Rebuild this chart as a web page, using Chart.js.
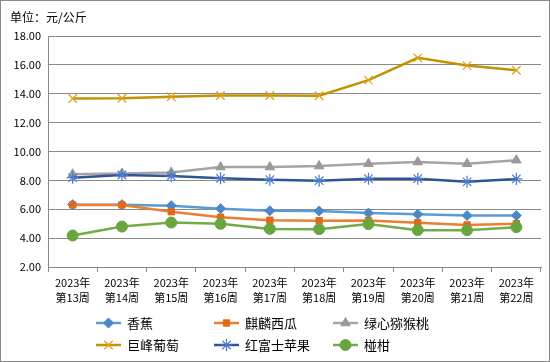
<!DOCTYPE html>
<html>
<head>
<meta charset="utf-8">
<script src="https://cdn.jsdelivr.net/npm/chart.js@4/dist/chart.umd.min.js"></script>
<style>
  html, body { margin: 0; padding: 0; background: #fff; }
  #wrap { width: 550px; height: 362px; position: relative; }
</style>
</head>
<body>
<div id="wrap"><canvas id="priceChart"></canvas></div>
<script>
const weeks = ['第13周', '第14周', '第15周', '第16周', '第17周', '第18周', '第19周', '第20周', '第21周', '第22周'];
const yearLabel = '2023年';

const banana     = [6.32, 6.32, 6.25, 6.04, 5.90, 5.88, 5.74, 5.65, 5.56, 5.56];
const watermelon = [6.30, 6.30, 5.83, 5.45, 5.24, 5.21, 5.22, 5.07, 4.91, 5.00];
const kiwi       = [8.42, 8.48, 8.55, 8.92, 8.92, 8.99, 9.15, 9.27, 9.15, 9.40];
const grape      = [13.67, 13.69, 13.79, 13.88, 13.88, 13.86, 14.94, 16.49, 15.95, 15.63];
const fuji       = [8.19, 8.37, 8.30, 8.14, 8.05, 7.98, 8.12, 8.12, 7.90, 8.10];
const ponkan     = [4.18, 4.80, 5.08, 4.99, 4.64, 4.62, 4.97, 4.55, 4.55, 4.76];

const cjk = "'Noto Sans CJK SC', 'DejaVu Sans', sans-serif";

function series(label, data, line, marker, style, radius) {
    return {
        label: label,
        data: data,
        borderColor: line,
        backgroundColor: line,
        borderWidth: 2.5,
        pointStyle: style,
        pointRadius: radius,
        pointBackgroundColor: marker,
        pointBorderColor: marker,
        pointBorderWidth: (style === 'crossRot' || style === 'star') ? 1.2 : 1,
        tension: 0
    };
}

const sets = [
    series('香蕉', banana, '#5B9BD5', '#4A88C8', 'rectRot', 5),
    series('麒麟西瓜', watermelon, '#ED7D31', '#E06A1C', 'rect', 4.5),
    series('绿心猕猴桃', kiwi, '#A5A5A5', '#999999', 'triangle', 5.5),
    series('巨峰葡萄', grape, '#C29200', '#E0A21C', 'crossRot', 6),
    series('红富士苹果', fuji, '#2F5597', '#4A7BD0', 'star', 6),
    series('椪柑', ponkan, '#70AD47', '#6AA63F', 'circle', 5.5)
];
// later series drawn on top
sets.forEach((s, i) => { s.order = sets.length - i; });

const frameAndLegend = {
    id: 'frameAndLegend',
    afterDraw(chart) {
        const ctx = chart.ctx;
        ctx.save();
        // outer frame
        ctx.strokeStyle = '#898989';
        ctx.lineWidth = 1;
        ctx.strokeRect(0.5, 0.5, chart.width - 1, chart.height - 1);
        // unit title
        ctx.fillStyle = '#000';
        ctx.font = '12px ' + cjk;
        ctx.textBaseline = 'middle';
        ctx.textAlign = 'left';
        ctx.fillText('单位：元/公斤', 10, 17);
        // legend, 3 columns x 2 rows
        const colX = [96, 214, 333];
        const rowY = [323, 345];
        ctx.font = '13px ' + cjk;
        chart.data.datasets.forEach((ds, i) => {
            const x0 = colX[i % 3];
            const y = rowY[Math.floor(i / 3)];
            ctx.strokeStyle = ds.borderColor;
            ctx.lineWidth = 2.5;
            ctx.beginPath();
            ctx.moveTo(x0, y);
            ctx.lineTo(x0 + 25, y);
            ctx.stroke();
            ctx.fillStyle = ds.pointBackgroundColor;
            ctx.strokeStyle = ds.pointBorderColor;
            ctx.lineWidth = ds.pointBorderWidth;
            Chart.helpers.drawPoint(ctx, {
                pointStyle: ds.pointStyle,
                radius: ds.pointRadius,
                borderWidth: ds.pointBorderWidth,
                rotation: 0
            }, x0 + 12.5, y);
            ctx.fillStyle = '#000';
            ctx.textAlign = 'left';
            ctx.fillText(ds.label, x0 + 31, y);
        });
        ctx.restore();
    }
};

const chartCtx = document.getElementById('priceChart').getContext('2d');

const priceChart = new Chart(chartCtx, {
    type: 'line',
    data: {
        labels: weeks.map(w => [yearLabel, w]),
        datasets: sets
    },
    options: {
        responsive: true,
        maintainAspectRatio: false,
        animation: false,
        layout: {
            padding: { top: 36, right: 9, bottom: 50, left: 0 }
        },
        plugins: {
            legend: { display: false },
            title: { display: false },
            tooltip: { enabled: false }
        },
        scales: {
            x: {
                offset: true,
                grid: {
                    offset: true,
                    drawOnChartArea: false,
                    drawTicks: true,
                    tickLength: 5,
                    color: '#898989'
                },
                border: { color: '#898989', width: 1 },
                ticks: {
                    color: '#000',
                    font: { family: cjk, size: 11, lineHeight: 1.36 },
                    padding: 3,
                    maxRotation: 0,
                    autoSkip: false
                },
                afterFit: s => { s.height = 45; }
            },
            y: {
                min: 2,
                max: 18,
                ticks: {
                    stepSize: 2,
                    color: '#000',
                    font: { family: cjk, size: 11 },
                    padding: 7,
                    callback: v => v.toFixed(2)
                },
                grid: {
                    color: '#898989',
                    drawTicks: false
                },
                border: { color: '#898989', width: 1 },
                afterFit: s => { s.width = 48; }
            }
        }
    },
    plugins: [frameAndLegend]
});
</script>
</body>
</html>
